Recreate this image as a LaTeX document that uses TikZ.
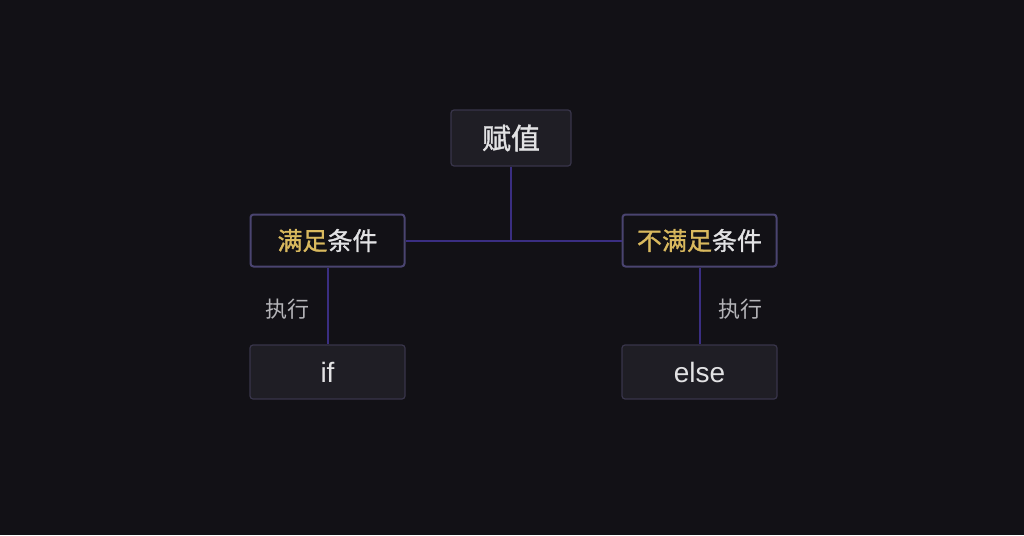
\documentclass[tikz,border=0pt]{standalone}
\usepackage{fontspec}
\setmainfont{Noto Sans CJK SC}
\newfontfamily\cjkm[RawFeature={embolden=1.2}]{Noto Sans CJK SC}
\newfontfamily\latinf{Liberation Sans}
\definecolor{bg}{HTML}{121116}
\definecolor{boxfill}{HTML}{1F1E25}
\definecolor{boxedge}{HTML}{38354A}
\definecolor{condedge}{HTML}{4A4470}
\definecolor{linec}{HTML}{3A2E82}
\definecolor{gold}{HTML}{D9B95E}
\definecolor{txt}{HTML}{E2E2E4}
\definecolor{graytxt}{HTML}{B4B4B8}
\tikzset{
  plainbox/.style={draw=boxedge, line width=1.2pt, fill=boxfill, rounded corners=3pt, text=txt, inner sep=0pt, minimum width=155pt, minimum height=54pt},
  condbox/.style={draw=condedge, line width=2pt, fill=bg, rounded corners=3pt, text=txt, inner sep=0pt, minimum width=154pt, minimum height=52pt, font=\cjkm\fontsize{25}{29}\selectfont},
  conn/.style={draw=linec, line width=2pt},
  lbl/.style={text=graytxt, font=\fontsize{22}{26}\selectfont}
}
\begin{document}
\begin{tikzpicture}[x=1pt,y=-1pt]
\fill[bg] (0,0) rectangle (1024,535);
\useasboundingbox (0,0) rectangle (1024,535);
\node[plainbox, minimum width=120pt, minimum height=56pt, font=\cjkm\fontsize{29}{33}\selectfont] (assign) at (511,138) {赋值};
\node[condbox] (yes) at (327.5,240.5) {\textcolor{gold}{满足}条件};
\node[condbox] (no) at (699.5,240.5) {\textcolor{gold}{不满足}条件};
\node[plainbox, font=\latinf\fontsize{28}{32}\selectfont] (if) at (327.5,372) {if};
\node[plainbox, font=\latinf\fontsize{28}{32}\selectfont] (else) at (699.5,372) {else};
\coordinate (j) at (511,241);
\draw[conn] (assign.south) -- (j);
\draw[conn] (yes.east) -- (no.west);
\draw[conn] (yes.south) -- (if.north);
\draw[conn] (no.south) -- (else.north);
\node[lbl] (l1) at (287,309) {执行};
\node[lbl] (l2) at (740,309) {执行};
\end{tikzpicture}
\end{document}
